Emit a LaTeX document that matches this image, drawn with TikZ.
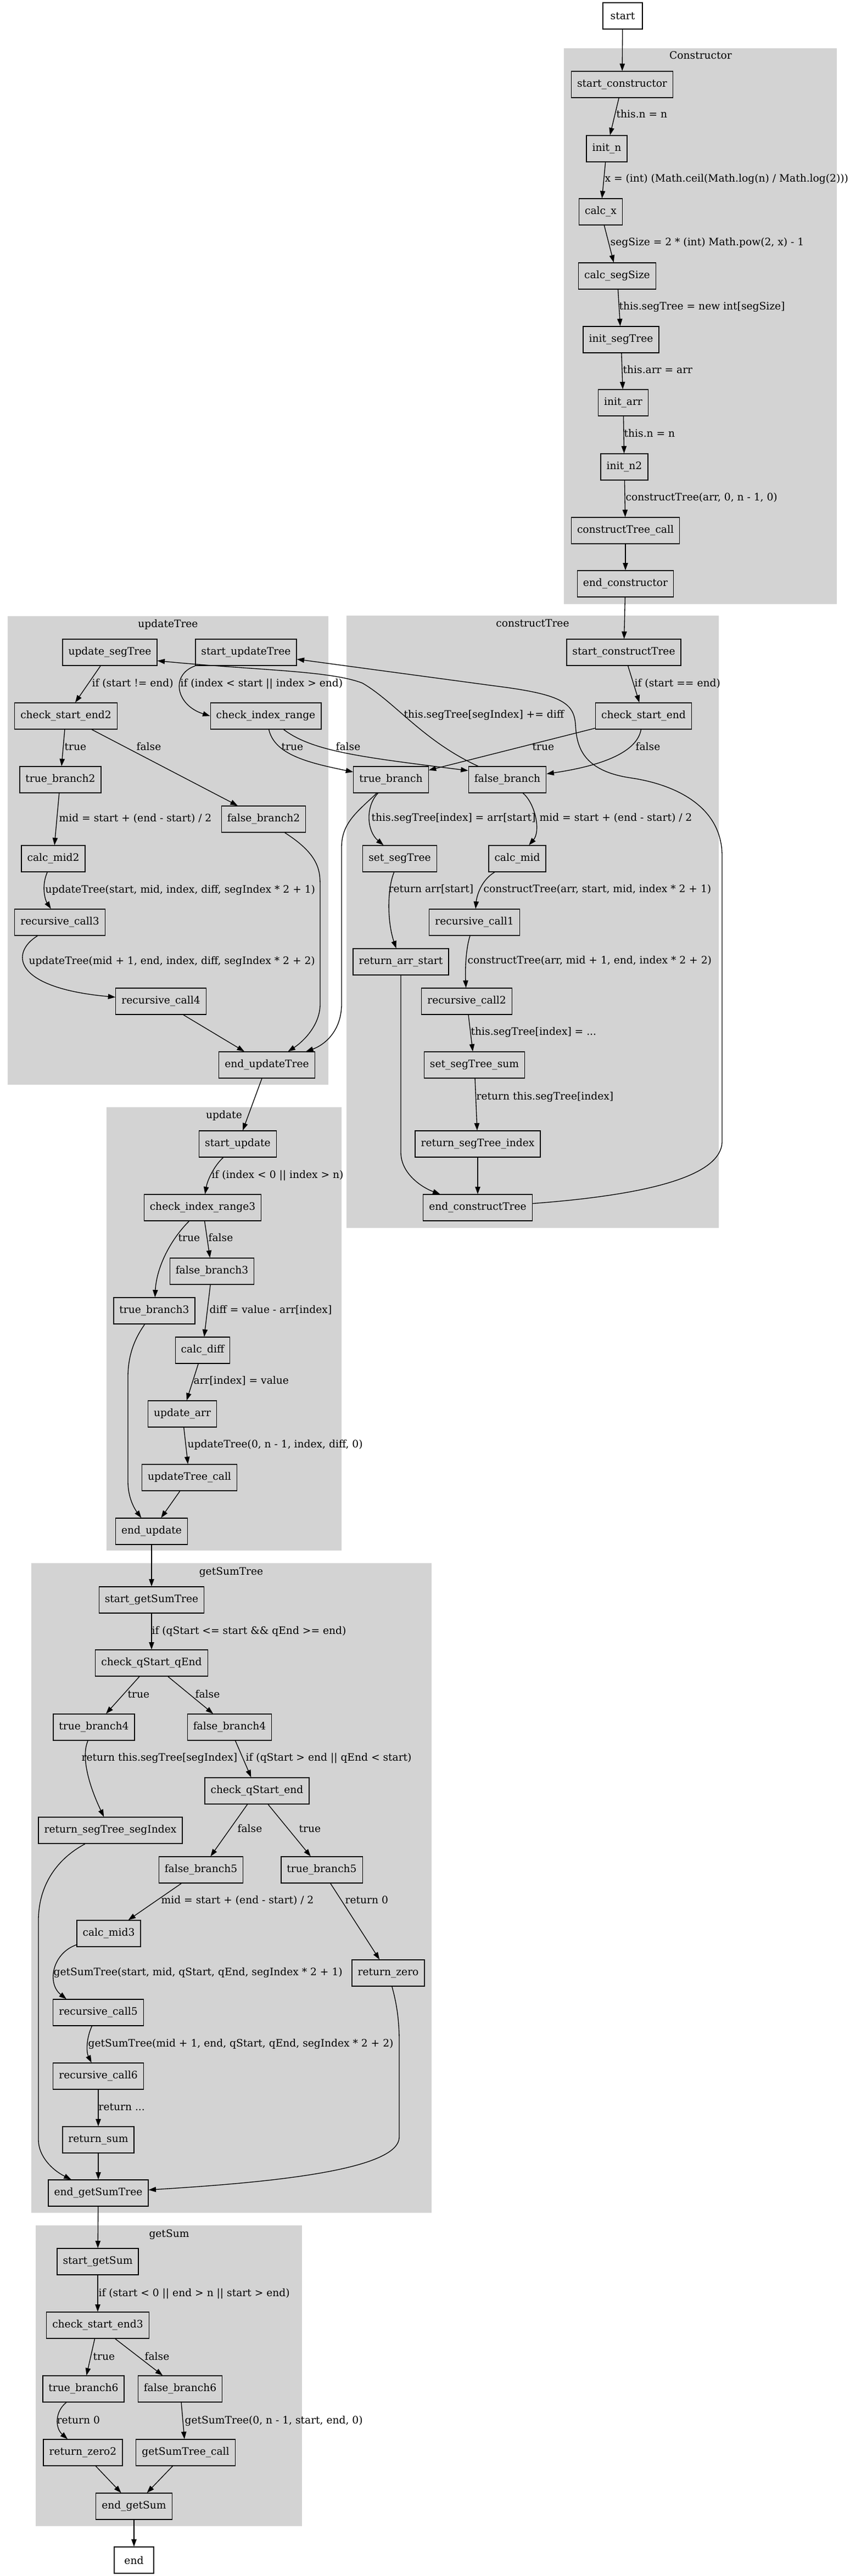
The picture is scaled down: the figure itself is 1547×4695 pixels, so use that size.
\documentclass[tikz,border=0pt]{standalone}
\usepackage{fontspec}
\setmainfont{DejaVu Serif}
\usetikzlibrary{arrows.meta}
\definecolor{clustergray}{RGB}{211,211,211}

\tikzset{every picture/.style={line width=1pt}}
\tikzset{
  gvbox/.style={draw, rectangle, minimum height=36pt, minimum width=54pt, inner xsep=7.92pt, inner ysep=3.96pt, font=\fontsize{14}{17}\selectfont},
  gvlabel/.style={anchor=west, inner sep=0pt, text height=10.5pt, text depth=3pt, font=\fontsize{14}{17}\selectfont},
  gvtitle/.style={inner sep=0pt, text height=10.5pt, text depth=3pt, font=\fontsize{14}{17}\selectfont},
  gvcluster/.style={fill=clustergray, draw=clustergray},
  gvedge/.style={-{Triangle[length=10pt,width=7pt]}},
}

\begin{document}
\begin{tikzpicture}[x=0.75pt,y=0.75pt,yscale=-1]
	\useasboundingbox (0,0) rectangle (1547,4695);

	% Clusters
	\draw [gvcluster] (1028,89) rectangle (1523,1100);
	\draw [gvcluster] (15,1124) rectangle (597,1976);
	\draw [gvcluster] (632,1123) rectangle (1308,2237);
	\draw [gvcluster] (195,2019) rectangle (621,2825);
	\draw [gvcluster] (58,2850) rectangle (785,4032);
	\draw [gvcluster] (66,4057) rectangle (549,4603);
	\node [gvtitle] (t_constructor) at (1276,103) {Constructor};
	\node [gvtitle] (t_updateTree) at (306,1138) {updateTree};
	\node [gvtitle] (t_constructTree) at (970,1137) {constructTree};
	\node [gvtitle] (t_update) at (408,2033) {update};
	\node [gvtitle] (t_getSumTree) at (421,2865) {getSumTree};
	\node [gvtitle] (t_getSum) at (308,4072) {getSum};

	% Text Node -- Constructor
	\node [gvbox] (start) at (1134,29) {start};
	\node [gvbox] (start_constructor) at (1133,154) {start\_constructor};
	\node [gvbox] (init_n) at (1105,271) {init\_n};
	\node [gvbox] (calc_x) at (1094,386) {calc\_x};
	\node [gvbox] (calc_segSize) at (1124,503) {calc\_segSize};
	\node [gvbox] (init_segTree) at (1131,619) {init\_segTree};
	\node [gvbox] (init_arr) at (1135,734) {init\_arr};
	\node [gvbox] (init_n2) at (1137,851) {init\_n2};
	\node [gvbox] (constructTree_call) at (1139,967) {constructTree\_call};
	\node [gvbox] (end_constructor) at (1139,1064) {end\_constructor};

	% Text Node -- updateTree
	\node [gvbox] (update_segTree) at (200,1189) {update\_segTree};
	\node [gvbox] (start_updateTree) at (448,1189) {start\_updateTree};
	\node [gvbox] (check_start_end2) at (120,1305) {check\_start\_end2};
	\node [gvbox] (check_index_range) at (484,1305) {check\_index\_range};
	\node [gvbox] (true_branch2) at (110,1421) {true\_branch2};
	\node [gvbox] (false_branch2) at (480,1493) {false\_branch2};
	\node [gvbox] (calc_mid2) at (97,1565) {calc\_mid2};
	\node [gvbox] (recursive_call3) at (109,1681) {recursive\_call3};
	\node [gvbox] (recursive_call4) at (293,1825) {recursive\_call4};
	\node [gvbox] (end_updateTree) at (486,1941) {end\_updateTree};

	% Text Node -- constructTree
	\node [gvbox] (start_constructTree) at (1136,1189) {start\_constructTree};
	\node [gvbox] (check_start_end) at (1172,1305) {check\_start\_end};
	\node [gvbox] (true_branch) at (712,1421) {true\_branch};
	\node [gvbox] (false_branch) at (924,1421) {false\_branch};
	\node [gvbox] (set_segTree) at (728,1565) {set\_segTree};
	\node [gvbox] (calc_mid) at (942,1565) {calc\_mid};
	\node [gvbox] (recursive_call1) at (864,1681) {recursive\_call1};
	\node [gvbox] (return_arr_start) at (730,1753) {return\_arr\_start};
	\node [gvbox] (recursive_call2) at (850,1825) {recursive\_call2};
	\node [gvbox] (set_segTree_sum) at (864,1941) {set\_segTree\_sum};
	\node [gvbox] (return_segTree_index) at (870,2085) {return\_segTree\_index};
	\node [gvbox] (end_constructTree) at (870,2201) {end\_constructTree};

	% Text Node -- update
	\node [gvbox] (start_update) at (433,2085) {start\_update};
	\node [gvbox] (check_index_range3) at (369,2201) {check\_index\_range3};
	\node [gvbox] (false_branch3) at (386,2317) {false\_branch3};
	\node [gvbox] (true_branch3) at (281,2389) {true\_branch3};
	\node [gvbox] (calc_diff) at (369,2461) {calc\_diff};
	\node [gvbox] (update_arr) at (332,2577) {update\_arr};
	\node [gvbox] (updateTree_call) at (345,2693) {updateTree\_call};
	\node [gvbox] (end_update) at (276,2791) {end\_update};

	% Text Node -- getSumTree
	\node [gvbox] (start_getSumTree) at (276,2916) {start\_getSumTree};
	\node [gvbox] (check_qStart_qEnd) at (276,3031) {check\_qStart\_qEnd};
	\node [gvbox] (true_branch4) at (171,3148) {true\_branch4};
	\node [gvbox] (false_branch4) at (418,3148) {false\_branch4};
	\node [gvbox] (check_qStart_end) at (468,3264) {check\_qStart\_end};
	\node [gvbox] (return_segTree_segIndex) at (201,3336) {return\_segTree\_segIndex};
	\node [gvbox] (false_branch5) at (366,3408) {false\_branch5};
	\node [gvbox] (true_branch5) at (586,3408) {true\_branch5};
	\node [gvbox] (calc_mid3) at (198,3524) {calc\_mid3};
	\node [gvbox] (return_zero) at (707,3596) {return\_zero};
	\node [gvbox] (recursive_call5) at (179,3668) {recursive\_call5};
	\node [gvbox] (recursive_call6) at (179,3784) {recursive\_call6};
	\node [gvbox] (return_sum) at (179,3900) {return\_sum};
	\node [gvbox] (end_getSumTree) at (179,3997) {end\_getSumTree};

	% Text Node -- getSum
	\node [gvbox] (start_getSum) at (178,4122) {start\_getSum};
	\node [gvbox] (check_start_end3) at (178,4238) {check\_start\_end3};
	\node [gvbox] (true_branch6) at (152,4354) {true\_branch6};
	\node [gvbox] (false_branch6) at (328,4354) {false\_branch6};
	\node [gvbox] (return_zero2) at (151,4470) {return\_zero2};
	\node [gvbox] (getSumTree_call) at (338,4470) {getSumTree\_call};
	\node [gvbox] (end_getSum) at (244,4568) {end\_getSum};
	\node [gvbox] (end) at (244,4666) {end};

	% Edge labels
	\node [gvlabel] (lab_c1) at (1122,210) {this.n = n};
	\node [gvlabel] (lab_c2) at (1101,327) {x = (int) (Math.ceil(Math.log(n) / Math.log(2)))};
	\node [gvlabel] (lab_c3) at (1111,443) {segSize = 2 * (int) Math.pow(2, x) - 1};
	\node [gvlabel] (lab_c4) at (1127,559) {this.segTree = new int[segSize]};
	\node [gvlabel] (lab_c5) at (1134,675) {this.arr = arr};
	\node [gvlabel] (lab_c6) at (1136,791) {this.n = n};
	\node [gvlabel] (lab_c7) at (1139,907) {constructTree(arr, 0, n - 1, 0)};

	\node [gvlabel] (lab_u1) at (167,1246) {if (start != end)};
	\node [gvlabel] (lab_u2) at (328,1246) {if (index < start || index > end)};
	\node [gvlabel] (lab_u3) at (117,1362) {true};
	\node [gvlabel] (lab_u4) at (248,1362) {false};
	\node [gvlabel] (lab_u5) at (512,1362) {true};
	\node [gvlabel] (lab_u6) at (611,1362) {false};
	\node [gvlabel] (lab_u7) at (107,1492) {mid = start + (end - start) / 2};
	\node [gvlabel] (lab_u8) at (82,1622) {updateTree(start, mid, index, diff, segIndex * 2 + 1)};
	\node [gvlabel] (lab_u9) at (52,1752) {updateTree(mid + 1, end, index, diff, segIndex * 2 + 2)};

	\node [gvlabel] (lab_t1) at (1155,1246) {if (start == end)};
	\node [gvlabel] (lab_t2) at (735,1303) {this.segTree[segIndex] += diff};
	\node [gvlabel] (lab_t3) at (969,1362) {true};
	\node [gvlabel] (lab_t4) at (1157,1362) {false};
	\node [gvlabel] (lab_t5) at (676,1491) {this.segTree[index] = arr[start]};
	\node [gvlabel] (lab_t6) at (982,1491) {mid = start + (end - start) / 2};
	\node [gvlabel] (lab_t7) at (707,1621) {return arr[start]};
	\node [gvlabel] (lab_t8) at (880,1621) {constructTree(arr, start, mid, index * 2 + 1)};
	\node [gvlabel] (lab_t9) at (851,1751) {constructTree(arr, mid + 1, end, index * 2 + 2)};
	\node [gvlabel] (lab_t10) at (857,1881) {this.segTree[index] = ...};
	\node [gvlabel] (lab_t11) at (867,1999) {return this.segTree[index]};

	\node [gvlabel] (lab_p1) at (385,2142) {if (index < 0 || index > n)};
	\node [gvlabel] (lab_p2) at (324,2257) {true};
	\node [gvlabel] (lab_p3) at (379,2257) {false};
	\node [gvlabel] (lab_p4) at (381,2388) {diff = value - arr[index]};
	\node [gvlabel] (lab_p5) at (352,2517) {arr[index] = value};
	\node [gvlabel] (lab_p6) at (341,2633) {updateTree(0, n - 1, index, diff, 0)};

	\node [gvlabel] (lab_s1) at (276,2973) {if (qStart <= start \&\& qEnd >= end)};
	\node [gvlabel] (lab_s2) at (232,3089) {true};
	\node [gvlabel] (lab_s3) at (355,3089) {false};
	\node [gvlabel] (lab_s4) at (148,3204) {return this.segTree[segIndex]};
	\node [gvlabel] (lab_s5) at (447,3204) {if (qStart > end || qEnd < start)};
	\node [gvlabel] (lab_s6) at (432,3334) {false};
	\node [gvlabel] (lab_s7) at (544,3334) {true};
	\node [gvlabel] (lab_s8) at (293,3464) {mid = start + (end - start) / 2};
	\node [gvlabel] (lab_s9) at (628,3464) {return 0};
	\node [gvlabel] (lab_s10) at (97,3595) {getSumTree(start, mid, qStart, qEnd, segIndex * 2 + 1)};
	\node [gvlabel] (lab_s11) at (160,3725) {getSumTree(mid + 1, end, qStart, qEnd, segIndex * 2 + 2)};
	\node [gvlabel] (lab_s12) at (179,3841) {return ...};

	\node [gvlabel] (lab_g1) at (179,4180) {if (start < 0 || end > n || start > end)};
	\node [gvlabel] (lab_g2) at (169,4296) {true};
	\node [gvlabel] (lab_g3) at (263,4296) {false};
	\node [gvlabel] (lab_g4) at (103,4412) {return 0};
	\node [gvlabel] (lab_g5) at (336,4412) {getSumTree(0, n - 1, start, end, 0)};

	% Connection -- Constructor
	\draw [gvedge] (start) -- (start_constructor);
	\draw [gvedge] (start_constructor) -- (init_n);
	\draw [gvedge] (init_n) -- (calc_x);
	\draw [gvedge] (calc_x) -- (calc_segSize);
	\draw [gvedge] (calc_segSize) -- (init_segTree);
	\draw [gvedge] (init_segTree) -- (init_arr);
	\draw [gvedge] (init_arr) -- (init_n2);
	\draw [gvedge] (init_n2) -- (constructTree_call);
	\draw [gvedge] (constructTree_call) -- (end_constructor);
	\draw [gvedge] (end_constructor) -- (start_constructTree);

	% Connection -- updateTree
	\draw [gvedge] (update_segTree) -- (check_start_end2);
	\draw [gvedge] (start_updateTree.south west) .. controls (310,1230) and (320,1285) .. (check_index_range.west);
	\draw [gvedge] (check_start_end2) -- (true_branch2);
	\draw [gvedge] (check_start_end2) -- (false_branch2);
	\draw [gvedge] (true_branch2) -- (calc_mid2);
	\draw [gvedge] (calc_mid2) .. controls (75,1615) and (82,1640) .. (recursive_call3);
	\draw [gvedge] (recursive_call3) .. controls (20,1735) and (20,1800) .. (recursive_call4);
	\draw [gvedge] (recursive_call4) -- (end_updateTree);
	\draw [gvedge] (false_branch2) .. controls (585,1560) and (583,1590) .. (583,1620) -- (583,1830) .. controls (583,1870) and (550,1900) .. (end_updateTree);
	\draw [gvedge] (check_index_range) .. controls (500,1375) and (560,1390) .. (true_branch);
	\draw [gvedge] (check_index_range) .. controls (570,1370) and (660,1380) .. (false_branch.167);
	\draw [gvedge] (true_branch) .. controls (650,1480) and (622,1500) .. (622,1545) -- (622,1830) .. controls (622,1880) and (590,1905) .. (end_updateTree);
	\draw [gvedge] (false_branch) .. controls (770,1350) and (720,1280) .. (660,1245) .. controls (600,1222) and (470,1222) .. (update_segTree.-10);

	% Connection -- constructTree
	\draw [gvedge] (start_constructTree) -- (check_start_end);
	\draw [gvedge] (check_start_end) -- (true_branch);
	\draw [gvedge] (check_start_end) .. controls (1160,1370) and (1100,1395) .. (false_branch);
	\draw [gvedge] (true_branch) .. controls (665,1470) and (668,1515) .. (set_segTree);
	\draw [gvedge] (false_branch) .. controls (975,1465) and (985,1515) .. (calc_mid);
	\draw [gvedge] (set_segTree) .. controls (705,1620) and (705,1680) .. (return_arr_start);
	\draw [gvedge] (calc_mid) .. controls (875,1605) and (868,1635) .. (recursive_call1);
	\draw [gvedge] (recursive_call1) .. controls (848,1730) and (847,1770) .. (recursive_call2);
	\draw [gvedge] (recursive_call2) -- (set_segTree_sum);
	\draw [gvedge] (set_segTree_sum) -- (return_segTree_index);
	\draw [gvedge] (return_segTree_index) -- (end_constructTree);
	\draw [gvedge] (return_arr_start) -- (730,2100) .. controls (730,2140) and (770,2165) .. (end_constructTree);
	\draw [gvedge] (end_constructTree) .. controls (1150,2180) and (1315,2150) .. (1315,2080) -- (1315,1560) .. controls (1315,1470) and (1230,1430) .. (1150,1418) .. controls (1060,1405) and (1050,1360) .. (1048,1320) .. controls (1045,1280) and (1020,1265) .. (900,1250) -- (start_updateTree);

	% Connection -- update
	\draw [gvedge] (end_updateTree) -- (start_update);
	\draw [gvedge] (start_update) .. controls (390,2125) and (378,2150) .. (check_index_range3);
	\draw [gvedge] (check_index_range3) .. controls (310,2260) and (285,2310) .. (true_branch3);
	\draw [gvedge] (check_index_range3) -- (false_branch3);
	\draw [gvedge] (false_branch3) -- (calc_diff);
	\draw [gvedge] (calc_diff) -- (update_arr);
	\draw [gvedge] (update_arr) -- (updateTree_call);
	\draw [gvedge] (updateTree_call) -- (end_update);
	\draw [gvedge] (true_branch3) .. controls (245,2440) and (233,2470) .. (233,2510) -- (233,2700) .. controls (233,2730) and (245,2750) .. (end_update);

	% Connection -- getSumTree
	\draw [gvedge] (end_update) -- (start_getSumTree);
	\draw [gvedge] (start_getSumTree) -- (check_qStart_qEnd);
	\draw [gvedge] (check_qStart_qEnd) -- (true_branch4);
	\draw [gvedge] (check_qStart_qEnd) -- (false_branch4);
	\draw [gvedge] (true_branch4) .. controls (148,3200) and (160,3250) .. (return_segTree_segIndex);
	\draw [gvedge] (false_branch4) -- (check_qStart_end);
	\draw [gvedge] (check_qStart_end) -- (false_branch5);
	\draw [gvedge] (check_qStart_end) -- (true_branch5);
	\draw [gvedge] (false_branch5) -- (calc_mid3);
	\draw [gvedge] (true_branch5) -- (return_zero);
	\draw [gvedge] (calc_mid3) .. controls (95,3560) and (85,3615) .. (recursive_call5.157);
	\draw [gvedge] (recursive_call5) .. controls (157,3715) and (157,3740) .. (recursive_call6);
	\draw [gvedge] (recursive_call6) -- (return_sum);
	\draw [gvedge] (return_sum) -- (end_getSumTree);
	\draw [gvedge] (return_segTree_segIndex) .. controls (100,3390) and (70,3440) .. (70,3500) -- (70,3900) .. controls (70,3930) and (95,3955) .. (end_getSumTree);
	\draw [gvedge] (return_zero) .. controls (722,3650) and (727,3680) .. (727,3720) -- (727,3895) .. controls (727,3960) and (450,3980) .. (end_getSumTree);

	% Connection -- getSum
	\draw [gvedge] (end_getSumTree) -- (start_getSum);
	\draw [gvedge] (start_getSum) -- (check_start_end3);
	\draw [gvedge] (check_start_end3) -- (true_branch6);
	\draw [gvedge] (check_start_end3) -- (false_branch6);
	\draw [gvedge] (true_branch6) .. controls (100,4395) and (100,4425) .. (return_zero2);
	\draw [gvedge] (false_branch6) -- (getSumTree_call);
	\draw [gvedge] (return_zero2) -- (end_getSum);
	\draw [gvedge] (getSumTree_call) -- (end_getSum);
	\draw [gvedge] (end_getSum) -- (end);

\end{tikzpicture}
\end{document}
